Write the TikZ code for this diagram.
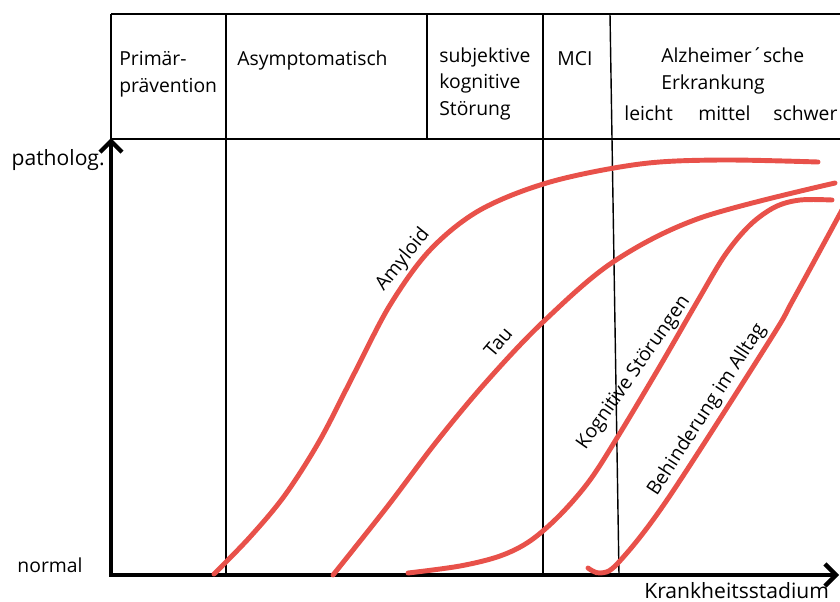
\documentclass[tikz,border=0pt]{standalone}
\usepackage{fontspec}
\setmainfont{Open Sans}
\usetikzlibrary{arrows.meta}
\definecolor{curvered}{RGB}{232,81,74}

\begin{document}
\begin{tikzpicture}[x = 0.2mm, y = -0.2mm, > = {Straight Barb[length = 2.2mm, width = 4.4mm]},
	label/.style = {font = \fontsize{11}{14.8}\selectfont, inner sep = 0pt},
	axislabel/.style = {font = \fontsize{12}{14.8}\selectfont, inner sep = 0pt},
	frame/.style = {line width = 1.1pt},
	curve/.style = {curvered, line width = 2.8pt, line cap = round}]

	\useasboundingbox (0, 0) rectangle (840, 601);

	% Definitions

	\def\headTop{14}		% Upper edge of header
	\def\headBottom{139}	% Lower edge of header
	\def\axisX{111}
	\def\axisY{575}
	\def\rightEdge{840}

	% Header

	\draw [frame] (\axisX, \headTop) -- (\rightEdge, \headTop);
	\draw [frame] (\axisX, \headBottom) -- (\rightEdge, \headBottom);
	\draw [frame] (\axisX, \headTop) -- (\axisX, \headBottom);
	\draw [frame] (226, \headTop) -- (226, \axisY);
	\draw [frame] (427, \headTop) -- (427, \headBottom);
	\draw [frame] (543, \headTop) -- (543, \axisY);
	\draw [line width = 0.8pt] (610, \headTop) -- (619, \axisY);

	% Header texts (base is the last line)

	\node [label, anchor = base west, align = left] (praevention) at (119, 92) {Primär-\\prävention};
	\node [label, anchor = base west] (asymptomatisch) at (237, 65) {Asymptomatisch};
	\node [label, anchor = base west, align = left] (subjektiv) at (439, 115) {subjektive\\kognitive\\Störung};
	\node [label, anchor = base west] (mci) at (557, 65) {MCI};
	\node [label, anchor = base west, align = left] (alzheimer) at (661, 89) {Alzheimer´sche\\Erkrankung};
	\node [label, anchor = base west] (leicht) at (624, 120) {leicht};
	\node [label, anchor = base west] (mittel) at (698, 120) {mittel};
	\node [label, anchor = base west] (schwer) at (773, 120) {schwer};

	% Axes

	\coordinate (origin) at (\axisX, \axisY);
	\coordinate (yTip) at (\axisX, 138);
	\coordinate (xTip) at (839, \axisY);
	\draw [<->, line width = 2.5pt] (yTip) -- (origin) -- (xTip);

	\node [axislabel, anchor = base east] (patholog) at (105, 165) {patholog.};
	\node [label, anchor = base] (normal) at (50, 572) {normal};
	\node [axislabel, anchor = base west] (stadium) at (644, 598) {Krankheitsstadium};

	% Curves

	\draw [curve] plot [smooth, tension = 0.55] coordinates {(214, 574) (250, 537) (285, 495) (320, 440) (355, 372) (390, 305) (430, 250) (480, 210) (550, 182) (640, 164) (720, 160) (818, 162)};
	\draw [curve] plot [smooth, tension = 0.55] coordinates {(333, 575) (387, 507) (437, 441) (487, 381) (543, 322) (613, 262) (700, 218) (835, 183)};
	\draw [curve] plot [smooth, tension = 0.55] coordinates {(408, 573) (460, 566) (500, 556) (530, 541) (560, 515) (590, 480) (620, 433) (660, 366) (697, 302) (725, 255) (750, 225) (775, 207) (800, 200) (832, 200)};
	\draw [curve] plot [smooth, tension = 0.55] coordinates {(588, 568) (600, 573) (618, 563) (667, 500) (770, 340) (793, 300) (842, 210)};

	% Curve labels

	\node [label, rotate = 51] (amyloid) at (403, 260) {Amyloid};
	\node [label, rotate = 50] (tau) at (498, 342) {Tau};
	\node [label, rotate = 55] (kognitiv) at (634, 373) {Kognitive Störungen};
	\node [label, rotate = 57] (behinderung) at (707, 410) {Behinderung im Alltag};

\end{tikzpicture}
\end{document}
